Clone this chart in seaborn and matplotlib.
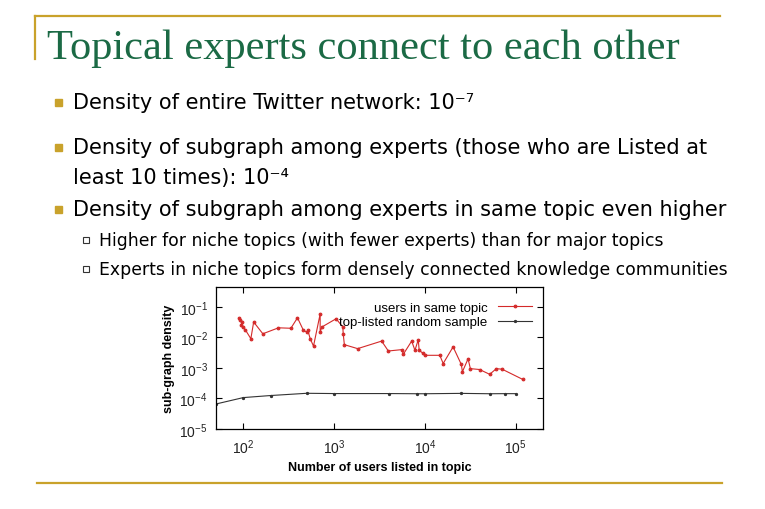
import numpy as np
import pandas as pd
import matplotlib
matplotlib.use("Agg")
import matplotlib.pyplot as plt
import seaborn as sns
from matplotlib.patches import Rectangle
from matplotlib.lines import Line2D

# --- data ---
same_topic_users = [89, 93, 97, 95, 98, 105, 121, 130, 164, 244, 334, 395, 460, 501,
                    514, 545, 593, 702, 702, 733, 1052, 1247, 1260, 1297, 1817, 3340,
                    3955, 5600, 5780, 7150, 7770, 8450, 8650, 9560, 10000, 14600, 15900,
                    20450, 25200, 25900, 29900, 31700, 40000, 51700, 61300, 71000, 120000]
same_topic_density = [0.043, 0.036, 0.032, 0.026, 0.022, 0.018, 0.0091, 0.032, 0.0132,
                      0.0207, 0.020, 0.044, 0.0169, 0.015, 0.0169, 0.0091, 0.0052, 0.059,
                      0.015, 0.022, 0.041, 0.022, 0.0132, 0.0058, 0.0043, 0.0076, 0.0036,
                      0.0040, 0.0028, 0.0076, 0.0038, 0.0084, 0.0038, 0.0030, 0.0026,
                      0.0026, 0.0014, 0.0049, 0.0013, 0.00075, 0.0020, 0.00095, 0.00089,
                      0.00062, 0.00095, 0.00091, 0.00042]

random_users = [50, 100, 200, 500, 1000, 4000, 8100, 10000, 25000, 52000, 76000, 100000]
random_density = [6.6e-5, 1.07e-4, 1.25e-4, 1.48e-4, 1.45e-4, 1.45e-4, 1.43e-4, 1.43e-4,
                  1.47e-4, 1.43e-4, 1.44e-4, 1.44e-4]

x_ticks = [1e2, 1e3, 1e4, 1e5]
y_ticks = [1e-5, 1e-4, 1e-3, 1e-2, 1e-1]

title = "Topical experts connect to each other"
bullets = [
    ("Density of entire Twitter network: 10\u207b\u2077", 103),
    ("Density of subgraph among experts (those who are Listed at", 148),
    ("Density of subgraph among experts in same topic even higher", 210),
]
bullet_cont = ("least 10 times): 10\u207b\u2074", 178)
sub_bullets = [
    ("Higher for niche topics (with fewer experts) than for major topics", 241),
    ("Experts in niche topics form densely connected knowledge communities", 270),
]

W, H = 765, 510
GOLD = "#c9a22b"
GREEN = "#1b6a45"


def fx(x):
    return x / W


def fy(y):
    return 1 - y / H


fig = plt.figure(figsize=(W / 100, H / 100), dpi=100)
fig.patch.set_facecolor("white")

# slide decoration
fig.add_artist(Line2D([fx(35), fx(720)], [fy(17), fy(17)], color=GOLD, lw=1.6))
fig.add_artist(Line2D([fx(35), fx(35)], [fy(17), fy(60)], color=GOLD, lw=1.6))
fig.add_artist(Line2D([fx(37), fx(722)], [fy(484), fy(484)], color=GOLD, lw=1.6))

fig.text(fx(47), fy(49), title, family="Liberation Serif", fontsize=30.6,
         color=GREEN, va="center", ha="left")

for txt, y in bullets:
    fig.add_artist(Rectangle((fx(55), fy(y + 4)), 7 / W, 7 / H, color=GOLD,
                             transform=fig.transFigure))
    fig.text(fx(73), fy(y), txt, family="DejaVu Sans", fontsize=15, va="center")
fig.text(fx(73), fy(bullet_cont[1]), bullet_cont[0], family="DejaVu Sans",
         fontsize=15, va="center")

for txt, y in sub_bullets:
    fig.add_artist(Rectangle((fx(83), fy(y + 3)), 6 / W, 6 / H, fill=False,
                             edgecolor="#333333", lw=0.8, transform=fig.transFigure))
    fig.text(fx(99), fy(y), txt, family="DejaVu Sans", fontsize=12.4, va="center")

# --- the chart ---
ax = fig.add_axes([fx(216), fy(430), (543 - 216) / W, (430 - 288) / H])

df_topic = pd.DataFrame({"users": same_topic_users, "density": same_topic_density})
df_rand = pd.DataFrame({"users": random_users, "density": random_density})

sns.lineplot(data=df_topic, x="users", y="density", sort=False, estimator=None,
             color="#d42a2a", lw=0.8, marker="o", markersize=2.0, mec="#d42a2a",
             label="users in same topic", ax=ax)
sns.lineplot(data=df_rand, x="users", y="density", sort=False, estimator=None,
             color="#333333", lw=0.8, marker="o", markersize=1.6, mec="#333333",
             label="top-listed random sample", ax=ax)

ax.set_xscale("log")
ax.set_yscale("log")
ax.set_xlim(50, 2e5)
ax.set_ylim(1e-5, 0.45)
ax.set_xticks(x_ticks)
ax.set_yticks(y_ticks)
ax.minorticks_off()
ax.tick_params(direction="in", top=True, right=True, length=4, width=0.8,
               labelsize=10, pad=6)
for lab in ax.get_xticklabels() + ax.get_yticklabels():
    lab.set_family("Liberation Sans")
    lab.set_color("#222222")
for s in ax.spines.values():
    s.set_linewidth(0.9)

ax.set_xlabel("Number of users listed in topic", family="Liberation Sans",
              fontsize=9, fontweight="bold", labelpad=4)
ax.set_ylabel("sub-graph density", family="Liberation Sans", fontsize=9,
              fontweight="bold", labelpad=3)

leg = ax.legend(loc="upper right", bbox_to_anchor=(1.0, 0.97), frameon=False,
                markerfirst=False, handlelength=2.6, labelspacing=0.15,
                borderaxespad=0.4, prop={"family": "Liberation Sans", "size": 9.5})

fig.savefig("out.png", dpi=100, facecolor="white")
